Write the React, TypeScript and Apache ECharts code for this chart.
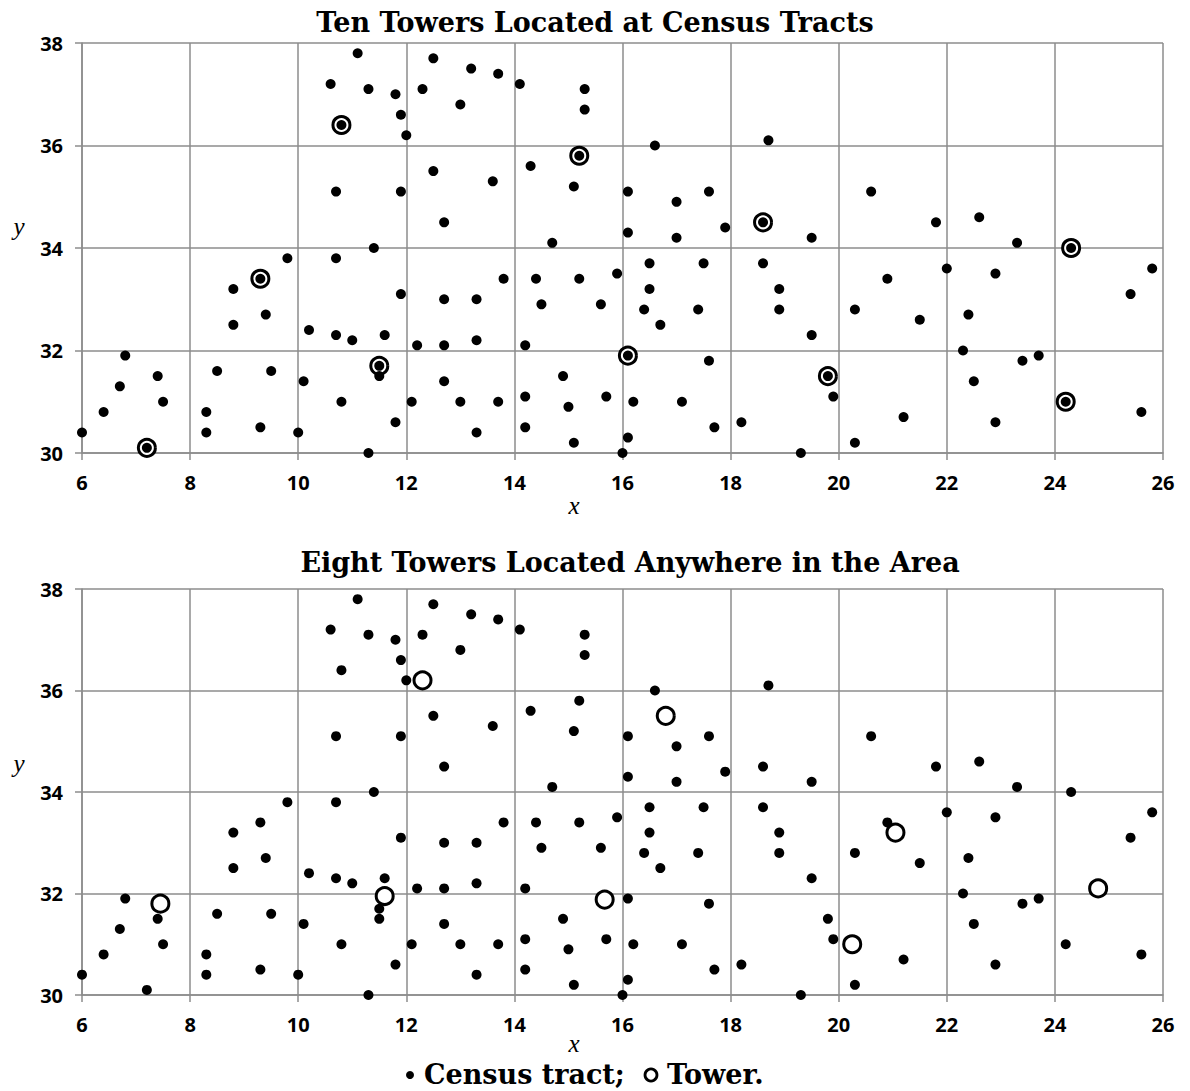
import React, { useEffect, useRef } from "react";
import * as echarts from "echarts";

// Census tract locations (x, y) — same in both panels
const censusTracts: [number, number][] = [
  [10.6, 37.2], [10.8, 36.4], [10.7, 35.1], [9.8, 33.8], [10.7, 33.8], [9.3, 33.4],
  [8.8, 33.2], [9.4, 32.7], [8.8, 32.5], [10.2, 32.4], [10.7, 32.3], [6.8, 31.9],
  [7.4, 31.5], [8.5, 31.6], [9.5, 31.6], [6.7, 31.3], [10.1, 31.4], [7.5, 31.0],
  [10.8, 31.0], [6.4, 30.8], [8.3, 30.8], [6.0, 30.4], [8.3, 30.4], [9.3, 30.5],
  [10.0, 30.4], [7.2, 30.1],
  [11.1, 37.8], [11.3, 37.1], [11.8, 37.0], [12.3, 37.1], [12.5, 37.7], [13.2, 37.5],
  [13.7, 37.4], [14.1, 37.2], [15.3, 37.1], [15.3, 36.7], [11.9, 36.6], [12.0, 36.2],
  [13.0, 36.8], [15.2, 35.8], [14.3, 35.6], [12.5, 35.5], [13.6, 35.3], [15.1, 35.2],
  [11.9, 35.1], [12.7, 34.5], [14.7, 34.1], [11.4, 34.0], [13.8, 33.4], [14.4, 33.4],
  [15.2, 33.4], [15.9, 33.5], [11.9, 33.1], [12.7, 33.0], [13.3, 33.0], [14.5, 32.9],
  [15.6, 32.9], [11.0, 32.2], [11.6, 32.3], [12.2, 32.1], [12.7, 32.1], [13.3, 32.2],
  [14.2, 32.1], [11.5, 31.7], [11.5, 31.5], [12.7, 31.4], [14.9, 31.5], [12.1, 31.0],
  [13.0, 31.0], [13.7, 31.0], [14.2, 31.1], [15.0, 30.9], [15.7, 31.1], [11.8, 30.6],
  [13.3, 30.4], [14.2, 30.5], [15.1, 30.2], [11.3, 30.0],
  [16.6, 36.0], [18.7, 36.1], [16.1, 35.1], [17.6, 35.1], [17.0, 34.9], [20.6, 35.1],
  [18.6, 34.5], [17.9, 34.4], [16.1, 34.3], [17.0, 34.2], [19.5, 34.2], [16.5, 33.7],
  [17.5, 33.7], [18.6, 33.7], [16.5, 33.2], [18.9, 33.2], [16.4, 32.8], [17.4, 32.8],
  [18.9, 32.8], [20.3, 32.8], [16.7, 32.5], [19.5, 32.3], [16.1, 31.9], [17.6, 31.8],
  [19.8, 31.5], [16.2, 31.0], [17.1, 31.0], [19.9, 31.1], [18.2, 30.6], [17.7, 30.5],
  [16.1, 30.3], [16.0, 30.0], [19.3, 30.0], [20.3, 30.2],
  [21.8, 34.5], [22.6, 34.6], [23.3, 34.1], [24.3, 34.0], [20.9, 33.4], [22.0, 33.6],
  [22.9, 33.5], [25.8, 33.6], [25.4, 33.1], [21.5, 32.6], [22.4, 32.7], [22.3, 32.0],
  [23.4, 31.8], [23.7, 31.9], [22.5, 31.4], [21.2, 30.7], [22.9, 30.6], [24.2, 31.0],
  [25.6, 30.8],
];

// Ten towers located at census tracts (top panel)
const towersAtTracts: [number, number][] = [
  [10.8, 36.4], [15.2, 35.8], [9.3, 33.4], [18.6, 34.5], [24.3, 34.0],
  [11.5, 31.7], [16.1, 31.9], [19.8, 31.5], [24.2, 31.0], [7.2, 30.1],
];

// Eight towers located anywhere (bottom panel)
const towersAnywhere: [number, number][] = [
  [12.3, 36.2], [16.8, 35.5], [7.45, 31.8], [11.6, 31.95],
  [15.67, 31.88], [20.25, 31.0], [21.05, 33.2], [24.8, 32.1],
];

const xRange = { min: 6, max: 26, interval: 2 };
const yRange = { min: 30, max: 38, interval: 2 };

const titles = [
  "Ten Towers Located at Census Tracts",
  "Eight Towers Located Anywhere in the Area",
];
const legendLabels = ["Census tract;", "Tower."];

const GRID = "#8c8c8c";
const TITLE_FONT = "'DejaVu Serif', serif";
const MATH_FONT = "'Liberation Serif', 'DejaVu Serif', serif";

function makeXAxis(gridIndex: number) {
  return {
    type: "value",
    gridIndex,
    ...xRange,
    axisLine: { show: true, onZero: false, lineStyle: { color: GRID, width: 1.5 } },
    axisTick: { show: true, length: 7, lineStyle: { color: GRID, width: 1.5 } },
    axisLabel: {
      margin: 19,
      color: "#000",
      fontFamily: "'Open Sans', sans-serif",
      fontWeight: "bold",
      fontSize: 20,
    },
    splitLine: { show: true, lineStyle: { color: GRID, width: 1.5 } },
  };
}

function makeYAxis(gridIndex: number) {
  return {
    type: "value",
    gridIndex,
    ...yRange,
    axisLine: { show: true, onZero: false, lineStyle: { color: GRID, width: 1.5 } },
    axisTick: { show: true, length: 7, lineStyle: { color: GRID, width: 1.5 } },
    axisLabel: {
      margin: 19,
      color: "#000",
      fontFamily: "'Open Sans', sans-serif",
      fontWeight: "bold",
      fontSize: 20,
    },
    splitLine: { show: true, lineStyle: { color: GRID, width: 1.5 } },
  };
}

function textEl(text: string, x: number, y: number, font: string, size: number, weight: string, style = "normal") {
  return {
    type: "text",
    x,
    y,
    style: {
      text,
      fill: "#000",
      font: `${style} ${weight} ${size}px ${font}`,
      align: "center",
      verticalAlign: "middle",
    },
  };
}

export default function App() {
  const ref = useRef<HTMLDivElement>(null);

  useEffect(() => {
    if (!ref.current) return;
    const chart = echarts.init(ref.current, undefined, { renderer: "svg" });
    const towerStyle = { color: "#fff", borderColor: "#000", borderWidth: 3, opacity: 1 };
    const tractStyle = { color: "#000", opacity: 1 };
    const option: any = {
      animation: false,
      backgroundColor: "#fff",
      grid: [
        { left: 82, top: 43, width: 1081, height: 410 },
        { left: 82, top: 589, width: 1081, height: 406 },
      ],
      xAxis: [makeXAxis(0), makeXAxis(1)],
      yAxis: [makeYAxis(0), makeYAxis(1)],
      series: [
        {
          name: "Tower (at tract)",
          type: "scatter",
          xAxisIndex: 0,
          yAxisIndex: 0,
          data: towersAtTracts,
          symbol: "circle",
          symbolSize: 17,
          itemStyle: towerStyle,
          z: 2,
        },
        {
          name: "Census tract",
          type: "scatter",
          xAxisIndex: 0,
          yAxisIndex: 0,
          data: censusTracts,
          symbol: "circle",
          symbolSize: 10,
          itemStyle: tractStyle,
          z: 3,
        },
        {
          name: "Tower (anywhere)",
          type: "scatter",
          xAxisIndex: 1,
          yAxisIndex: 1,
          data: towersAnywhere,
          symbol: "circle",
          symbolSize: 17,
          itemStyle: towerStyle,
          z: 2,
        },
        {
          name: "Census tract 2",
          type: "scatter",
          xAxisIndex: 1,
          yAxisIndex: 1,
          data: censusTracts,
          symbol: "circle",
          symbolSize: 10,
          itemStyle: tractStyle,
          z: 3,
        },
      ],
      graphic: [
        textEl(titles[0], 595, 22, TITLE_FONT, 27, "bold"),
        textEl(titles[1], 630, 562, TITLE_FONT, 27, "bold"),
        textEl("x", 574, 505, MATH_FONT, 25, "normal", "italic"),
        textEl("y", 19, 226, MATH_FONT, 25, "normal", "italic"),
        textEl("x", 574, 1043, MATH_FONT, 25, "normal", "italic"),
        textEl("y", 19, 763, MATH_FONT, 25, "normal", "italic"),
        {
          type: "circle",
          shape: { cx: 410, cy: 1075, r: 4 },
          style: { fill: "#000" },
        },
        {
          type: "text",
          x: 424,
          y: 1074,
          style: {
            text: legendLabels[0],
            fill: "#000",
            font: `bold 27px ${TITLE_FONT}`,
            align: "left",
            verticalAlign: "middle",
          },
        },
        {
          type: "circle",
          shape: { cx: 651, cy: 1075, r: 6 },
          style: { fill: "none", stroke: "#000", lineWidth: 2.8 },
        },
        {
          type: "text",
          x: 667,
          y: 1074,
          style: {
            text: legendLabels[1],
            fill: "#000",
            font: `bold 27px ${TITLE_FONT}`,
            align: "left",
            verticalAlign: "middle",
          },
        },
      ],
    };
    chart.setOption(option);
    return () => chart.dispose();
  }, []);

  return (
    <div
      ref={ref}
      style={{ position: "absolute", left: 0, top: 0, width: 1190, height: 1091 }}
    />
  );
}
